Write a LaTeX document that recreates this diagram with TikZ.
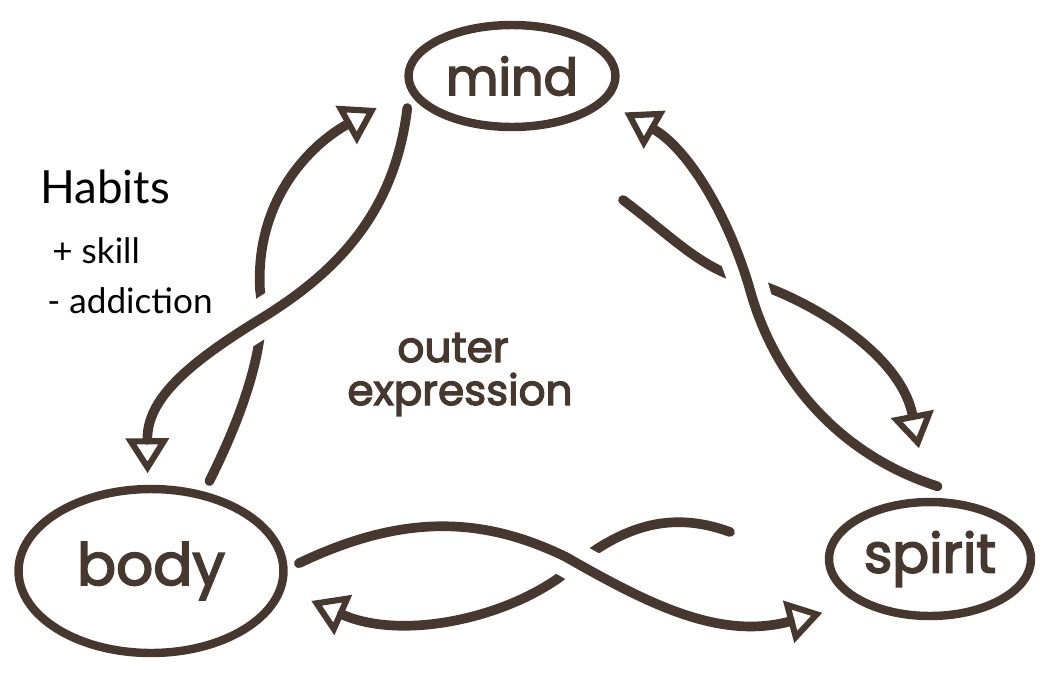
\documentclass[tikz,border=0pt]{standalone}
\usepackage{fontspec}
\usetikzlibrary{positioning,arrows.meta,shapes.geometric}
\newfontfamily\inkfont{Poppins}[FakeBold=3]
\newfontfamily\penfont{Lato}
\definecolor{ink}{RGB}{70,56,46}

\begin{document}
\begin{tikzpicture}[
  x=0.02cm,y=-0.02cm,
  blob/.style={ellipse,draw=ink,line width=4.8pt,inner sep=0pt,outer sep=9pt,text=ink},
  word/.style={text=ink,font=\inkfont\fontsize{24}{24}\selectfont,anchor=base,inner sep=0pt},
  pen/.style={font=\penfont\fontsize{20}{24}\selectfont,anchor=base west,inner sep=0pt},
  ar/.style={draw=ink,line width=5.5pt,line cap=round,-{Triangle[open,length=7mm,width=8.5mm,line width=3.5pt]}},
  over/.style={preaction={draw=white,line width=22pt,line cap=butt,-,shorten <=14pt,shorten >=14pt}},
]
\useasboundingbox (0,0) rectangle (1053,673);
\node[blob,minimum width=4.14cm,minimum height=2.04cm,font=\inkfont\fontsize{29}{29}\selectfont] (mind) at (512,76) {mind};
\node[blob,minimum width=5.3cm,minimum height=3.28cm,font=\inkfont\fontsize{33}{33}\selectfont] (body) at (151,571) {body};
\node[blob,minimum width=4.04cm,minimum height=2.28cm,font=\inkfont\fontsize{31}{31}\selectfont] (spirit) at (930,559) {spirit};
\node[word] (outer) at (453,362) {outer};
\node[word] (expr) at (460,405) {expression};
\node[pen,font=\penfont\fontsize{26}{26}\selectfont] (habits) at (40,203) {Habits};
\node[pen] (skill) at (52,263) {+ skill};
\node[pen] (addiction) at (47,313) {- addiction};
\coordinate (dtail) at (623,200);
\coordinate (ftail) at (730,532);
\draw[ar,shorten >=14pt] (body.57) .. controls (245,410) and (268,340) .. (260,290) .. controls (255,200) and (310,145) .. (mind.190);
\draw[ar,over] (mind.197) .. controls (395,210) and (340,270) .. (262,318) .. controls (185,365) and (147,400) .. (body.92);
\draw[ar,shorten >=22pt] (dtail) .. controls (670,235) and (700,268) .. (745,280) .. controls (800,295) and (900,350) .. (spirit.93);
\draw[ar,over,shorten >=5pt] (spirit.84) .. controls (840,455) and (775,380) .. (750,290) .. controls (730,220) and (690,150) .. (mind.-17);
\draw[ar,shorten >=10pt] (ftail) .. controls (670,510) and (620,525) .. (560,577) .. controls (500,620) and (400,640) .. (body.-9);
\draw[ar,over,shorten >=12pt] (body.3) .. controls (400,515) and (480,515) .. (566,557) .. controls (650,605) and (720,640) .. (spirit.209);
\end{tikzpicture}
\end{document}
